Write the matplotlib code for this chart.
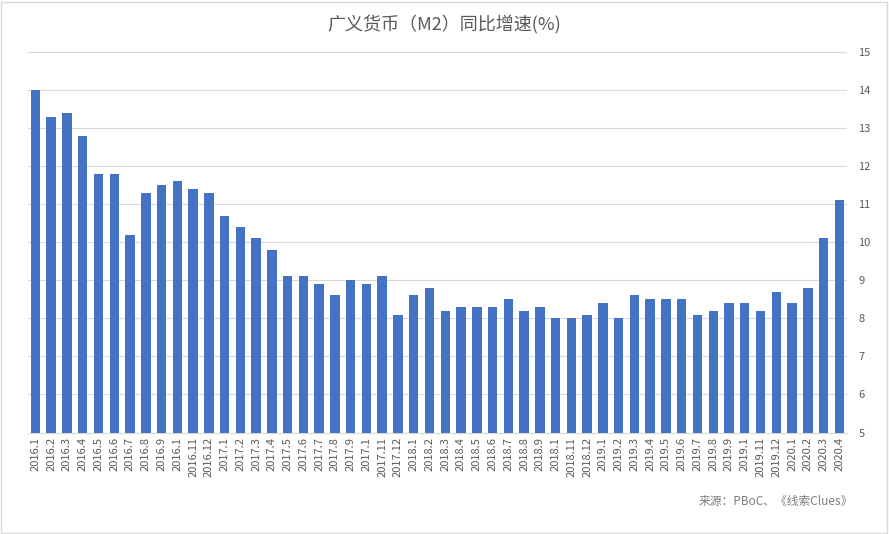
import matplotlib
matplotlib.use("Agg")
import matplotlib.pyplot as plt
from matplotlib.patches import Rectangle

plt.rcParams["font.family"] = ["Noto Sans CJK SC"]

labels = ["2016.1","2016.2","2016.3","2016.4","2016.5","2016.6","2016.7","2016.8","2016.9","2016.1","2016.11","2016.12",
          "2017.1","2017.2","2017.3","2017.4","2017.5","2017.6","2017.7","2017.8","2017.9","2017.1","2017.11","2017.12",
          "2018.1","2018.2","2018.3","2018.4","2018.5","2018.6","2018.7","2018.8","2018.9","2018.1","2018.11","2018.12",
          "2019.1","2019.2","2019.3","2019.4","2019.5","2019.6","2019.7","2019.8","2019.9","2019.1","2019.11","2019.12",
          "2020.1","2020.2","2020.3","2020.4"]
values = [14.0,13.3,13.4,12.8,11.8,11.8,10.2,11.3,11.5,11.6,11.4,11.3,
          10.7,10.4,10.1,9.8,9.1,9.1,8.9,8.6,9.0,8.9,9.1,8.1,
          8.6,8.8,8.2,8.3,8.3,8.3,8.5,8.2,8.3,8.0,8.0,8.1,
          8.4,8.0,8.6,8.5,8.5,8.5,8.1,8.2,8.4,8.4,8.2,8.7,
          8.4,8.8,10.1,11.1]
yticks = list(range(5, 16))

fig = plt.figure(figsize=(8.89, 5.34), dpi=100)
ax = fig.add_axes([0.031, 0.19, 0.922, 0.713])
x = range(len(values))
ax.bar(x, [v - 5 for v in values], bottom=5, width=0.6, color="#4472C4", zorder=3)
ax.set_ylim(5, 15)
ax.set_xlim(-0.5, len(values) - 0.5)
ax.set_yticks(yticks)
ax.yaxis.tick_right()
ax.tick_params(axis="y", length=0, labelsize=8, colors="#595959", pad=8)
ax.set_xticks(list(x))
ax.set_xticklabels(labels, rotation=90, fontsize=8, color="#595959")
ax.tick_params(axis="x", length=0, pad=3)
ax.grid(axis="y", color="#d9d9d9", linewidth=0.8, zorder=0)
for s in ["top", "right", "left"]:
    ax.spines[s].set_visible(False)
ax.spines["bottom"].set_color("#d9d9d9")
fig.text(0.5, 0.955, "广义货币（M2）同比增速(%)", ha="center", va="center", fontsize=13, color="#595959")
fig.text(0.96, 0.06, "来源：PBoC、《线索Clues》", ha="right", va="center", fontsize=8.5, color="#7f7f7f", style="italic")
fig.patches.append(Rectangle((0.001, 0.002), 0.997, 0.995, transform=fig.transFigure, fill=False, edgecolor="#d9d9d9", linewidth=1))
fig.savefig("out.png", dpi=100)
